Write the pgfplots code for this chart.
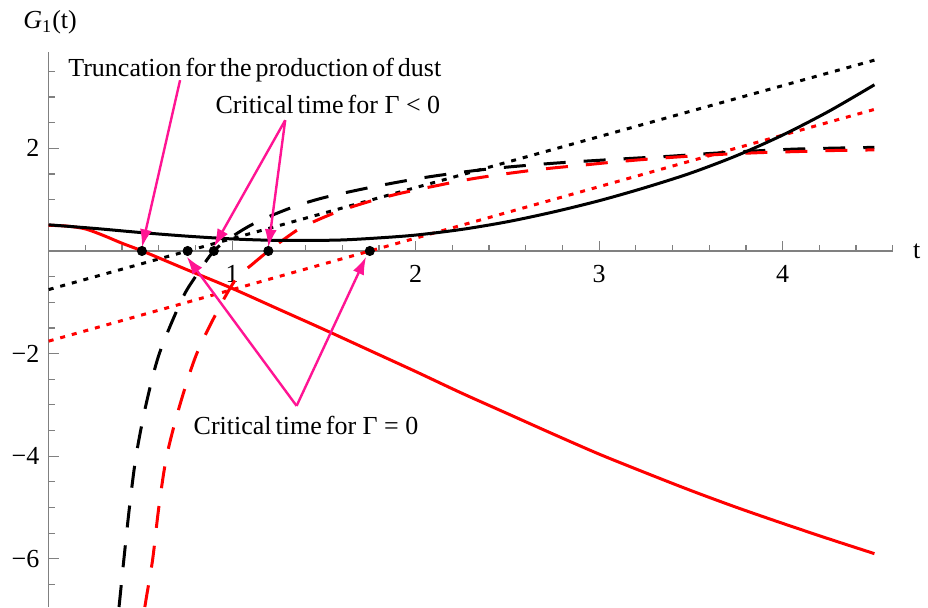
\documentclass[border=0pt]{standalone}
\usepackage{fontspec}
\setmainfont{Liberation Serif}
\usepackage{pgfplots}
\pgfplotsset{compat=1.18}
\usetikzlibrary{arrows.meta}
\definecolor{annot}{RGB}{255,20,147}
\definecolor{axisgray}{RGB}{128,128,128}

% G_1(t) for the different cases
\pgfplotstableread{
t     g
0     0.51
0.25  0.44
0.5   0.36
0.75  0.29
1.0   0.235
1.2   0.21
1.4   0.205
1.6   0.215
1.8   0.255
2.0   0.31
2.25  0.42
2.5   0.57
2.75  0.76
3.0   0.98
3.25  1.235
3.5   1.52
3.75  1.86
4.0   2.26
4.25  2.72
4.5   3.24
}\solidblack

\pgfplotstableread{
t     g
0     0.50
0.1   0.485
0.2   0.43
0.3   0.30
0.4   0.15
0.51  0.0
0.75  -0.36
1.0   -0.73
1.25  -1.13
1.5   -1.53
1.75  -1.94
2.0   -2.35
2.25  -2.77
2.5   -3.17
2.75  -3.57
3.0   -3.96
3.25  -4.32
3.5   -4.67
3.75  -5.00
4.0   -5.31
4.25  -5.61
4.5   -5.90
}\solidred

\pgfplotstableread{
t     g
0     -0.752
4.5   3.72
}\dottedblack

\pgfplotstableread{
t     g
0     -1.757
4.5   2.76
}\dottedred

\pgfplotstableread{
t      g
0.3833 -6.94
0.389  -6.74
0.41   -6.0
0.44   -5.0
0.476  -4.0
0.53   -3.0
0.603  -2.0
0.725  -0.95
0.80   -0.5
0.90   0.0
1.0    0.28
1.1    0.5
1.2    0.67
1.35   0.88
1.5    1.04
1.7    1.2
1.9    1.34
2.1    1.46
2.4    1.6
2.75   1.71
3.15   1.80
3.4    1.85
3.6    1.90
3.85   1.95
4.1    1.99
4.5    2.02
}\dashedblack

\pgfplotstableread{
t      g
0.524  -6.94
0.533  -6.74
0.567  -6.0
0.60   -5.0
0.643  -4.0
0.715  -3.0
0.807  -2.0
0.93   -1.1
1.024  -0.53
1.106  -0.27
1.197  0.0
1.26   0.17
1.36   0.42
1.45   0.58
1.57   0.76
1.66   0.87
1.79   1.01
1.9    1.11
2.0    1.19
2.11   1.27
2.22   1.35
2.33   1.42
2.5    1.51
2.7    1.60
2.9    1.67
3.1    1.74
3.3    1.80
3.5    1.85
3.7    1.89
3.9    1.92
4.1    1.94
4.3    1.96
4.5    1.97
}\dashedred

\begin{document}
\begin{tikzpicture}
\useasboundingbox (-24.35pt,0pt) rectangle (439.65pt,303.5pt);
\begin{axis}[
  at={(0pt,0pt)}, anchor=south west,
  x=91.75pt, y=25.65pt,
  xmin=0, xmax=4.6, ymin=-6.94, ymax=3.88,
  axis lines=middle,
  axis line style={axisgray, line width=0.8pt, -},
  every tick/.style={axisgray, line width=0.6pt},
  major tick length=5pt, minor tick length=3pt,
  tick align=inside,
  xtick={1,2,3,4}, ytick={-6,-4,-2,2},
  xticklabels={1,2,3,4},
  yticklabels={\char"2212 6,\char"2212 4,\char"2212 2,2},
  minor xtick={0.2,0.4,0.6,0.8,1.2,1.4,1.6,1.8,2.2,2.4,2.6,2.8,3.2,3.4,3.6,3.8,4.2,4.4,4.6},
  minor ytick={-6.5,-5.5,-5,-4.5,-3.5,-3,-2.5,-1.5,-1,-0.5,0.5,1,1.5,2.5,3,3.5},
  tick label style={font=\fontsize{13}{15}\selectfont, inner sep=0pt},
  xticklabel style={anchor=north, yshift=-7pt},
  yticklabel style={anchor=east, xshift=-4.5pt},
  clip=false,
]
\addplot[black, line width=1.5pt, dash pattern=on 2.5pt off 3.5pt] table {\dottedblack};
\addplot[red, line width=1.5pt, dash pattern=on 2.5pt off 3.5pt] table {\dottedred};
\addplot[black, line width=1.5pt, smooth, dash pattern=on 11pt off 9pt] table {\dashedblack};
\addplot[red, line width=1.5pt, smooth, dash pattern=on 11pt off 9pt] table {\dashedred};
\addplot[red, line width=1.5pt, smooth] table {\solidred};
\addplot[black, line width=1.5pt, smooth] table {\solidblack};

% critical times and truncation point
\addplot[only marks, mark=*, mark size=2.3pt, black] coordinates {(0.508,0) (0.757,0) (0.90,0) (1.197,0) (1.75,0)};

% annotations
\begin{scope}[annot, line width=1.2pt, -{Latex[length=9pt,width=6pt]}]
\draw (axis cs:0.716,3.33) -- (axis cs:0.508,0.07);
\draw (axis cs:1.289,2.55) -- (axis cs:0.90,0.08);
\draw (axis cs:1.289,2.55) -- (axis cs:1.197,0.07);
\draw (axis cs:1.351,-3.02) -- (axis cs:0.752,-0.11);
\draw (axis cs:1.351,-3.02) -- (axis cs:1.73,-0.11);
\end{scope}

\begin{scope}[font=\fontsize{13}{15}\selectfont, inner sep=0pt]
\node[anchor=base west] at (axis cs:0.105,3.41) {\spaceskip=2pt Truncation for the production of dust};
\node[anchor=base west] at (axis cs:0.907,2.684) {\spaceskip=2pt Critical time for\hspace{3.25pt}\char"0393\hspace{3.25pt}{<}\hspace{3.25pt}0};
\node[anchor=base west] at (axis cs:0.788,-3.587) {\spaceskip=2pt Critical time for\hspace{3.25pt}\char"0393\hspace{3.25pt}=\hspace{3.25pt}0};
\node[anchor=base west] at (axis cs:-0.14,4.33) {\textit{G}\textsubscript{1}(t)};
\node[anchor=west] at (axis cs:4.6,0) [xshift=10pt] {t};
\end{scope}
\end{axis}
\end{tikzpicture}
\end{document}
